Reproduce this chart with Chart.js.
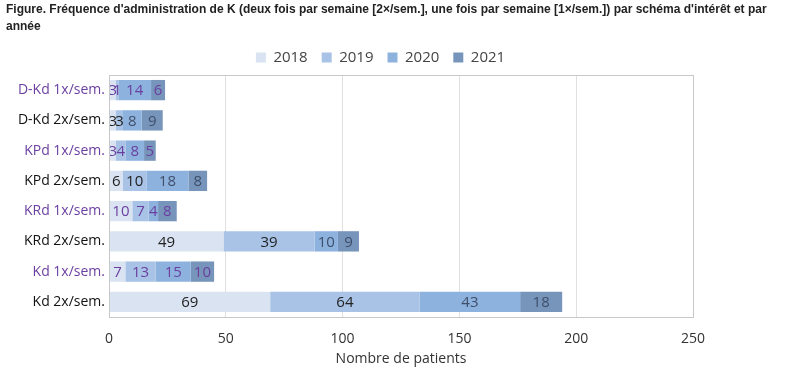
<!DOCTYPE html>
<html>
<head>
<meta charset="utf-8">
<script src="https://cdn.jsdelivr.net/npm/chart.js@4"></script>
<style>
  html, body { margin: 0; padding: 0; background: #fff; }
  #wrap { width: 800px; height: 373px; position: relative; }
</style>
</head>
<body>
<div id="wrap"><canvas id="chart"></canvas></div>
<script>
var categories = ["D-Kd 1x/sem.", "D-Kd 2x/sem.", "KPd 1x/sem.", "KPd 2x/sem.",
  "KRd 1x/sem.", "KRd 2x/sem.", "Kd 1x/sem.", "Kd 2x/sem."];
var years = ["2018", "2019", "2020", "2021"];
var v2018 = [3, 3, 3, 6, 10, 49, 7, 69];
var v2019 = [1, 3, 4, 10, 7, 39, 13, 64];
var v2020 = [14, 8, 8, 18, 4, 10, 15, 43];
var v2021 = [6, 9, 5, 8, 8, 9, 10, 18];
var xTicks = [0, 50, 100, 150, 200, 250];
var titleLines = ["Figure. Fréquence d'administration de K (deux fois par semaine [2×/sem.], une fois par semaine [1×/sem.]) par schéma d'intérêt et par",
  "année"];

var colors = ["#d9e3f1", "#a8c3e6", "#8eb2de", "#7795bb"];
var purple = "#6b3fa0";

var isWeekly = function(i) { return categories[i].indexOf("1x") >= 0; };

// numbers in the middle of each segment
var valueLabels = {
  id: "valueLabels",
  afterDatasetsDraw: function(chart) {
    var ctx = chart.ctx;
    ctx.save();
    ctx.font = "15px 'Open Sans', sans-serif";
    ctx.textAlign = "center";
    ctx.textBaseline = "middle";
    chart.data.datasets.forEach(function(ds, di) {
      var meta = chart.getDatasetMeta(di);
      meta.data.forEach(function(bar, i) {
        var mid = (bar.x + bar.base) / 2;
        if (isWeekly(i)) ctx.fillStyle = purple;
        else ctx.fillStyle = di < 2 ? "#222" : "#3f4f6a";
        ctx.fillText(String(ds.data[i]), mid, bar.y + 1);
      });
    });
    ctx.restore();
  }
};

// title is drawn by hand so it is not squeezed into the chart width
var figTitle = {
  id: "figTitle",
  afterDraw: function(chart) {
    var ctx = chart.ctx;
    ctx.save();
    ctx.font = "bold 12px 'Liberation Sans', Arial, sans-serif";
    ctx.fillStyle = "#222";
    ctx.textBaseline = "top";
    ctx.textAlign = "left";
    var w = ctx.measureText(titleLines[0]).width;
    var sx = Math.min(1, 788 / w);
    ctx.translate(6, 4);
    ctx.scale(sx, 1);
    ctx.fillText(titleLines[0], 0, 0);
    ctx.fillText(titleLines[1], 0, 17);
    ctx.restore();
  }
};

// legend in the reference is centred a bit left of the plot
var shiftLegend = {
  id: "shiftLegend",
  afterLayout: function(chart) {
    var lg = chart.legend;
    lg.left = 68;
    lg.width = lg.right - lg.left;
  }
};

var box = {
  id: "box",
  afterDraw: function(chart) {
    var a = chart.chartArea, ctx = chart.ctx;
    ctx.save();
    ctx.strokeStyle = "#c8c8c8";
    ctx.lineWidth = 1;
    ctx.strokeRect(a.left + 0.5, a.top + 0.5, a.right - a.left, a.bottom - a.top);
    ctx.restore();
  }
};

var series = [v2018, v2019, v2020, v2021];
var datasets = series.map(function(d, i) {
  return {
    label: years[i],
    data: d,
    backgroundColor: colors[i],
    borderWidth: 0,
    categoryPercentage: 0.8,
    barPercentage: 0.84
  };
});

new Chart(document.getElementById("chart").getContext("2d"), {
  type: "bar",
  data: { labels: categories, datasets: datasets },
  plugins: [valueLabels, figTitle, shiftLegend, box],
  options: {
    indexAxis: "y",
    responsive: true,
    maintainAspectRatio: false,
    animation: false,
    layout: { padding: { left: 0, right: 107, top: 36, bottom: 2 } },
    plugins: {
      title: { display: false },
      legend: {
        position: "top",
        labels: {
          boxWidth: 10,
          boxHeight: 10,
          color: "#444",
          padding: 14,
          font: { family: "'Open Sans', sans-serif", size: 15 }
        }
      },
      tooltip: { enabled: false }
    },
    scales: {
      x: {
        stacked: true,
        min: 0,
        max: 250,
        afterBuildTicks: function(scale) {
          scale.ticks = xTicks.map(function(v) { return { value: v }; });
        },
        afterFit: function(scale) { scale.height = 54; },
        grid: { color: "#e0e0e0", drawTicks: false },
        border: { color: "#bdbdbd" },
        ticks: { color: "#333", padding: 14, font: { family: "'Open Sans', sans-serif", size: 14 } },
        title: {
          display: true,
          text: "Nombre de patients",
          color: "#333",
          padding: { top: 0 },
          font: { family: "'Open Sans', sans-serif", size: 14 }
        }
      },
      y: {
        stacked: true,
        afterFit: function(scale) { scale.width = 109; },
        grid: { display: false, drawTicks: false },
        border: { color: "#bdbdbd" },
        ticks: {
          padding: 4,
          color: function(c) { return isWeekly(c.index) ? purple : "#111"; },
          font: { family: "'Open Sans', sans-serif", size: 14 }
        }
      }
    }
  }
});
</script>
</body>
</html>
